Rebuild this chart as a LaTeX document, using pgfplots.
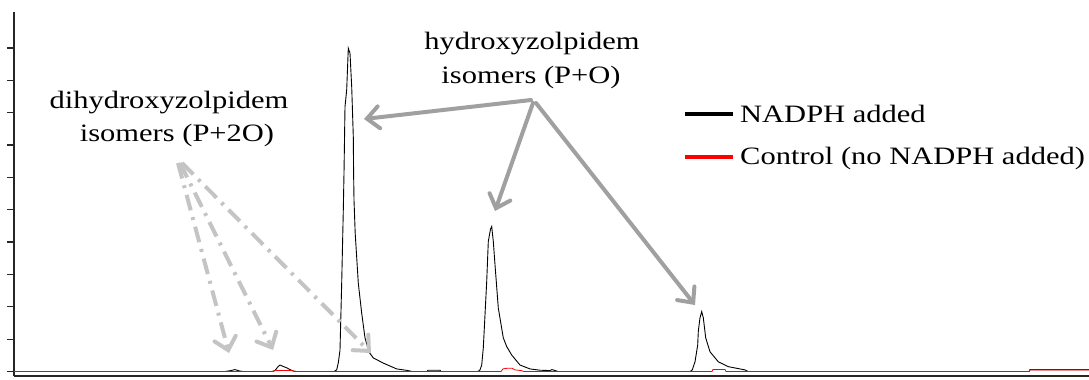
\documentclass[border=0pt]{standalone}
\usepackage{pgfplots}
\pgfplotsset{compat=1.18}
\usepackage{fontspec}
\setmainfont{Liberation Serif}
\usetikzlibrary{arrows.meta}

\definecolor{arrowgray}{HTML}{A0A0A0}
\definecolor{dashgray}{HTML}{C4C4C4}
\definecolor{axisdark}{HTML}{262626}

% chromatogram traces (x: scan position, y: relative intensity)
\pgfplotstableread{
x y
14 0
225 0
231 0.03
235 0.06
239 0.02
243 0
272 0
275 0.03
278 0.15
280 0.2
283 0.16
287 0.11
290 0.06
293 0.02
296 0
334 0
336.7 0.05
338.3 0.27
340 0.66
341.7 2.74
343.3 4.99
344 6.13
345 8.18
346.7 8.71
348.3 9.99
350 9.84
351.7 8.8
353.3 7.25
353.6 6.13
354 5.3
355.2 4.27
358.3 2.73
361.7 1.8
365 1.04
369 0.6
373.3 0.42
383.3 0.26
396.7 0.08
408 0.03
412 0
427 0
428 0.04
440 0.04
441 0
478 0
480 0.05
481.7 0.2
483.3 0.73
485 1.75
486.7 2.78
488.3 4.02
490.5 4.4
491.7 4.48
493.3 4.02
495 3.3
498.3 1.96
503.3 1.04
506.7 0.77
511.7 0.51
520 0.2
530 0.08
540 0.04
550 0.03
552 0.06
555 0.03
558 0
690 0
692.3 0.05
695 0.3
697.7 0.82
698.3 1.24
700 1.66
701.7 1.85
703.3 1.66
705.7 1.04
710 0.61
718.3 0.3
728.3 0.15
745 0.05
748 0
1029 0
1030 0.06
1089 0.06
}\nadph

\pgfplotstableread{
x y
14 0
273 0
275 0.03
292 0.03
294 0
501 0
503 0.08
507 0.1
512 0.1
515 0.05
521 0.03
524 0
712 0
713 0.06
725 0.06
726 0
1029 0
1030 0.05
1089 0.05
}\control

\newcommand{\lbl}[1]{\scalebox{1.22}[1]{#1}}

\begin{document}
\begin{tikzpicture}[x=1bp,y=1bp]
\useasboundingbox (0,0) rectangle (1089,-379);
\begin{axis}[
  at={(14bp,-376bp)}, anchor=south west,
  scale only axis, width=1075bp, height=364bp,
  xmin=14, xmax=1089, ymin=-0.139, ymax=11.11,
  axis x line*=bottom, axis y line*=left,
  axis line style={axisdark, line width=1.6bp},
  xtick=\empty,
  ytick={0,1,...,10}, yticklabels={},
  tick align=outside, major tick length=7bp,
  y tick style={axisdark, line width=1.2bp},
]
\addplot[black, line width=0.9bp] table {\nadph};
\addplot[red, line width=0.8bp] table {\control};
\end{axis}

% legend
\draw[black, line width=3.5bp] (685,-114) -- (733,-114);
\draw[red, line width=3.5bp] (685,-157) -- (733,-157);
\fontsize{25bp}{30bp}\selectfont
\node[anchor=base west, inner sep=0] at (740,-122) {\lbl{NADPH added}};
\node[anchor=base west, inner sep=0] at (740,-164) {\lbl{Control (no NADPH added)}};

% annotations
\node[anchor=base, inner sep=0] at (532,-49) {\lbl{hydroxyzolpidem}};
\node[anchor=base, inner sep=0] at (531,-83) {\lbl{isomers (P+O)}};
\node[anchor=base, inner sep=0] at (169,-108) {\lbl{dihydroxyzolpidem}};
\node[anchor=base, inner sep=0] at (177,-141) {\lbl{isomers (P+2O)}};

\begin{scope}[arrowgray, line width=4bp, line cap=round,
  -{Straight Barb[length=12bp, width=22bp, line cap=round]}]
\draw (531,-100) -- (364,-119);
\draw (533,-103) -- (495,-211);
\draw (536,-103) -- (695,-305);
\end{scope}

\begin{scope}[dashgray, line width=4bp,
  dash pattern=on 16bp off 7bp on 3bp off 7bp,
  -{Straight Barb[length=12bp, width=22bp, line cap=round]}]
\draw (178,-163) -- (229,-353);
\draw (180,-163) -- (273,-350);
\draw (182,-163) -- (371,-353);
\end{scope}
\end{tikzpicture}
\end{document}
